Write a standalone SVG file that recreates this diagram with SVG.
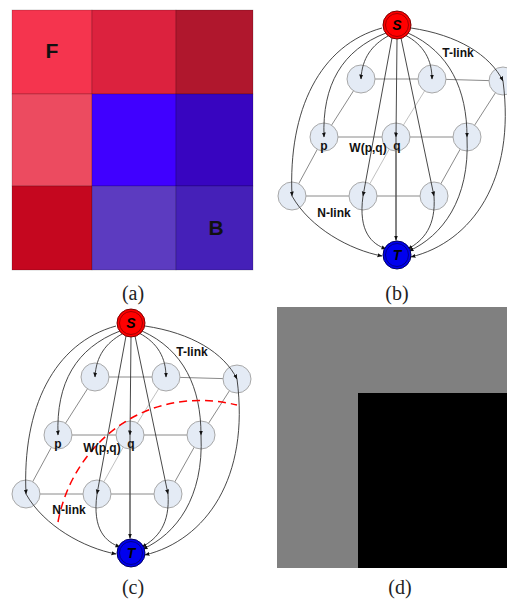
<svg xmlns="http://www.w3.org/2000/svg" width="507" height="600" viewBox="0 0 507 600">
<style>
.cell{stroke:#000;stroke-opacity:0.3;stroke-width:0.6}
.big{font-family:"Liberation Sans",Arial,sans-serif;font-weight:bold;font-size:21px;fill:#111;text-anchor:middle}
.cap{font-family:"Liberation Serif","Times New Roman",serif;font-size:20px;fill:#222;text-anchor:middle}
.lbl{font-family:"Liberation Sans",Arial,sans-serif;font-weight:bold;font-size:12px;fill:#111;text-anchor:middle}
.st{font-family:"Liberation Sans",Arial,sans-serif;font-weight:bold;font-style:italic;font-size:14px;fill:#000;text-anchor:middle}
.nd{fill:#E4EBF5;stroke:#A8A8A8;stroke-width:1}
.nl{stroke:#8A8A8A;stroke-width:1;fill:none}
.nl2{stroke:#B0B0B0;stroke-width:0.8;fill:none}
.tla{stroke:#333;stroke-width:0.9;fill:none;marker-end:url(#ah)}
</style>
<defs>
<marker id="ah" viewBox="0 0 10 10" refX="9" refY="5" markerWidth="5" markerHeight="5" orient="auto" markerUnits="userSpaceOnUse">
<path d="M0,1 L10,5 L0,9 z" fill="#111"/>
</marker>
</defs>
<rect width="507" height="600" fill="#fff"/>

<!-- (a) -->
<g id="panel-a">
<rect class="cell" x="12" y="10" width="80" height="84" fill="#F5344E"/>
<rect class="cell" x="92" y="10" width="84" height="84" fill="#DC223E"/>
<rect class="cell" x="176" y="10" width="77" height="84" fill="#B0172D"/>
<rect class="cell" x="12" y="94" width="80" height="92" fill="#EC4B60"/>
<rect class="cell" x="92" y="94" width="84" height="92" fill="#4000FF"/>
<rect class="cell" x="176" y="94" width="77" height="92" fill="#3805C0"/>
<rect class="cell" x="12" y="186" width="80" height="84" fill="#C5071F"/>
<rect class="cell" x="92" y="186" width="84" height="84" fill="#5C3BC0"/>
<rect class="cell" x="176" y="186" width="77" height="84" fill="#4520B8"/>
<text class="big" x="52" y="58">F</text>
<text class="big" x="216" y="235">B</text>
<text class="cap" x="133" y="300">(a)</text>
</g>

<!-- (b) -->
<g id="panel-b">
<g id="b-nlinks">
<path class="nl" d="M361,79 L432,79 L503,81 M324,137 L396,137 L467,137 M292,196 L363,196 L434,196 M361,79 L324,137 L292,196 M503,81 L467,137 L434,196"/>
<path class="nl2" d="M432,79 L396,137 L363,196"/>
<path class="nl" d="M396,137 L396,241"/>
</g>
<g id="b-nodes">
<g id="b-n11"><circle class="nd" cx="361" cy="79" r="14"/></g>
<g id="b-n12"><circle class="nd" cx="432" cy="79" r="14"/></g>
<g id="b-n13"><circle class="nd" cx="503" cy="81" r="14"/></g>
<g id="b-p"><circle class="nd" cx="324" cy="137" r="14"/><text class="lbl" x="324" y="150">p</text></g>
<g id="b-q"><circle class="nd" cx="396" cy="137" r="14"/><text class="lbl" x="397" y="150">q</text></g>
<g id="b-n23"><circle class="nd" cx="467" cy="137" r="14"/></g>
<g id="b-n31"><circle class="nd" cx="292" cy="196" r="14"/></g>
<g id="b-n32"><circle class="nd" cx="363" cy="196" r="14"/></g>
<g id="b-n33"><circle class="nd" cx="434" cy="196" r="14"/></g>
</g>
<g id="b-tlinks">
<path class="tla" d="M382,28 C320,45 288,110 292,196"/>
<path class="tla" d="M386,33 C342,50 322,85 324,137"/>
<path class="tla" d="M388,36 C372,45 362,58 361,79"/>
<path class="tla" d="M392,38 L363,196"/>
<path class="tla" d="M397,39 L396,137"/>
<path class="tla" d="M401,38 L434,196"/>
<path class="tla" d="M405,35 C424,45 432,60 432,79"/>
<path class="tla" d="M408,33 C450,52 467,90 467,137"/>
<path class="tla" d="M411,28 C458,35 490,55 503,81"/>
<path class="tla" d="M292,196 C310,228 350,250 382,256"/>
<path class="tla" d="M363,196 C358,232 372,244 386,249"/>
<path class="tla" d="M396,137 L396,240"/>
<path class="tla" d="M434,196 C436,226 424,240 408,249"/>
<path class="tla" d="M467,137 C470,200 442,236 409,251"/>
<path class="tla" d="M503,81 C516,180 472,242 411,257"/>
</g>
<g id="b-S"><circle cx="397" cy="25" r="14" fill="#F00" stroke="#7A0000" stroke-width="1"/><circle cx="397" cy="25" r="11.5" fill="none" stroke="#7A0000" stroke-width="0.7"/><text class="st" x="397" y="30">S</text></g>
<g id="b-T"><circle cx="397" cy="255" r="14" fill="#0000EE" stroke="#000060" stroke-width="1"/><circle cx="397" cy="255" r="11.5" fill="none" stroke="#000060" stroke-width="0.7"/><text class="st" x="397" y="260">T</text></g>
<text class="lbl" x="458" y="57">T-link</text>
<text class="lbl" x="368" y="152">W(p,q)</text>
<text class="lbl" x="334" y="217">N-link</text>
<text class="cap" x="397" y="300">(b)</text>
</g>

<!-- (c) -->
<g id="panel-c">
<g transform="translate(-266,298)">
<g id="c-nlinks">
<path class="nl" d="M361,79 L432,79 L503,81 M324,137 L396,137 L467,137 M292,196 L363,196 L434,196 M361,79 L324,137 L292,196 M503,81 L467,137 L434,196"/>
<path class="nl2" d="M432,79 L396,137 L363,196"/>
<path class="nl" d="M396,137 L396,241"/>
</g>
<g id="c-nodes">
<g id="c-n11"><circle class="nd" cx="361" cy="79" r="14"/></g>
<g id="c-n12"><circle class="nd" cx="432" cy="79" r="14"/></g>
<g id="c-n13"><circle class="nd" cx="503" cy="81" r="14"/></g>
<g id="c-p"><circle class="nd" cx="324" cy="137" r="14"/><text class="lbl" x="324" y="150">p</text></g>
<g id="c-q"><circle class="nd" cx="396" cy="137" r="14"/><text class="lbl" x="397" y="150">q</text></g>
<g id="c-n23"><circle class="nd" cx="467" cy="137" r="14"/></g>
<g id="c-n31"><circle class="nd" cx="292" cy="196" r="14"/></g>
<g id="c-n32"><circle class="nd" cx="363" cy="196" r="14"/></g>
<g id="c-n33"><circle class="nd" cx="434" cy="196" r="14"/></g>
</g>
<g id="c-tlinks">
<path class="tla" d="M382,28 C320,45 288,110 292,196"/>
<path class="tla" d="M386,33 C342,50 322,85 324,137"/>
<path class="tla" d="M388,36 C372,45 362,58 361,79"/>
<path class="tla" d="M392,38 L363,196"/>
<path class="tla" d="M397,39 L396,137"/>
<path class="tla" d="M401,38 L434,196"/>
<path class="tla" d="M405,35 C424,45 432,60 432,79"/>
<path class="tla" d="M408,33 C450,52 467,90 467,137"/>
<path class="tla" d="M411,28 C458,35 490,55 503,81"/>
<path class="tla" d="M292,196 C310,228 350,250 382,256"/>
<path class="tla" d="M363,196 C358,232 372,244 386,249"/>
<path class="tla" d="M396,137 L396,240"/>
<path class="tla" d="M434,196 C436,226 424,240 408,249"/>
<path class="tla" d="M467,137 C470,200 442,236 409,251"/>
<path class="tla" d="M503,81 C516,180 472,242 411,257"/>
</g>
<g id="c-S"><circle cx="397" cy="25" r="14" fill="#F00" stroke="#7A0000" stroke-width="1"/><circle cx="397" cy="25" r="11.5" fill="none" stroke="#7A0000" stroke-width="0.7"/><text class="st" x="397" y="30">S</text></g>
<g id="c-T"><circle cx="397" cy="255" r="14" fill="#0000EE" stroke="#000060" stroke-width="1"/><circle cx="397" cy="255" r="11.5" fill="none" stroke="#000060" stroke-width="0.7"/><text class="st" x="397" y="260">T</text></g>
</g>
<path id="c-cut" d="M58,522 C72,445 145,383 237,405" fill="none" stroke="#F00" stroke-width="1.5" stroke-dasharray="8,5"/>
<text class="lbl" x="192" y="356">T-link</text>
<text class="lbl" x="102" y="452">W(p,q)</text>
<text class="lbl" x="69" y="514">N-link</text>
<text class="cap" x="133" y="594">(c)</text>
</g>

<!-- (d) -->
<g id="panel-d">
<rect x="277" y="307" width="230" height="261" fill="#808080"/>
<rect x="358" y="393" width="149" height="175" fill="#000"/>
<text class="cap" x="400" y="594">(d)</text>
</g>
</svg>
